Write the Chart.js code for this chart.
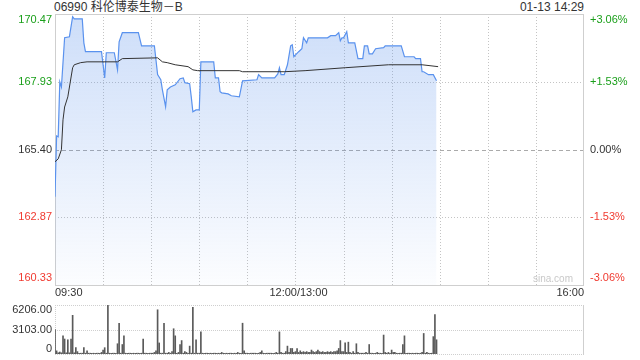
<!DOCTYPE html>
<html>
<head>
<meta charset="utf-8">
<script src="https://cdn.jsdelivr.net/npm/chart.js@4.4.1/dist/chart.umd.min.js"></script>
<style>
  body { margin: 0; background: #fff; width: 640px; height: 360px; overflow: hidden; position: relative;
         font-family: "Liberation Sans", Arial, "Noto Sans CJK SC", sans-serif; }
  #title { position: absolute; left: 54px; top: 0; font-size: 12px; color: #333; line-height: 14px; }
  #stamp { position: absolute; right: 56px; top: 0; font-size: 12px; color: #333; line-height: 14px; }
  #main { position: absolute; left: 0; top: 0; }
  #vol { position: absolute; left: 0; top: 296px; }
</style>
</head>
<body>
<div id="title">06990 科伦博泰生物－B</div>
<div id="stamp">01-13 14:29</div>
<canvas id="main" width="640" height="300"></canvas>
<canvas id="vol" width="640" height="64"></canvas>
<script>
// minutes since 09:30 (lunch break removed, 330 = 16:00)
const priceMinutes = [0, 1, 2, 3, 4, 6, 9, 11, 12, 17, 18, 19, 29, 31, 32, 37, 39, 40, 42, 52, 54, 62, 64, 66, 67, 69, 70, 72, 75, 78, 80, 81, 84, 85, 86, 88, 90, 91, 99, 100, 102, 103, 104, 108, 110, 115, 117, 126, 127, 129, 137, 139, 140, 141, 143, 145, 147, 148, 149, 152, 154, 155, 157, 158, 170, 172, 175, 177, 178, 179, 180, 182, 183, 187, 189, 192, 193, 195, 196, 198, 200, 205, 206, 216, 218, 224, 225, 228, 229, 230, 233, 236, 238];
const prices = [163.63, 165.91, 165.88, 167.93, 167.74, 169.58, 169.62, 170.37, 170.29, 170.29, 169.39, 169.06, 169.06, 168.08, 169.02, 169.02, 168.38, 169.43, 169.77, 169.77, 169.28, 169.28, 168.20, 168.01, 167.63, 167.00, 167.63, 167.74, 167.82, 168.05, 168.08, 167.90, 167.86, 167.37, 166.81, 166.88, 166.88, 168.68, 168.68, 168.08, 168.08, 167.56, 167.52, 167.48, 167.41, 167.37, 167.97, 168.01, 168.20, 168.08, 168.08, 168.23, 168.46, 168.20, 168.20, 168.57, 169.28, 169.32, 168.87, 169.06, 169.17, 169.58, 169.39, 169.58, 169.58, 169.66, 169.66, 169.77, 169.47, 169.58, 169.58, 169.81, 169.39, 169.39, 168.80, 168.80, 169.28, 169.28, 168.98, 168.98, 169.17, 169.21, 169.28, 169.28, 168.87, 168.87, 168.80, 168.80, 168.31, 168.31, 168.20, 168.20, 167.97];

const avgMinutes = [0, 2, 4, 5, 6, 8, 11, 12, 16, 20, 39, 42, 64, 67, 70, 75, 83, 86, 89, 115, 117, 143, 156, 181, 208, 229, 239];
const avgPrices = [164.94, 165.05, 165.39, 166.51, 166.99, 167.37, 168.46, 168.57, 168.65, 168.68, 168.68, 168.80, 168.83, 168.68, 168.65, 168.57, 168.50, 168.38, 168.35, 168.35, 168.31, 168.31, 168.35, 168.46, 168.57, 168.57, 168.50];

// volume for each minute from 09:30 (index = minute)
const volumes = [
  3100, 400, 150, 250, 150, 2300, 1900, 150, 1800, 150,
  1900, 4900, 150, 800, 300, 100, 100, 100, 800, 100,
  400, 100, 100, 100, 100, 100, 100, 100, 100, 200,
  500, 800, 100, 6200, 100, 100, 100, 100, 100, 1300,
  3900, 100, 1200, 2300, 100, 100, 100, 100, 100, 100,
  100, 100, 100, 100, 100, 1900, 100, 100, 100, 100,
  100, 100, 200, 400, 5600, 1400, 100, 100, 3900, 100,
  100, 200, 100, 300, 3200, 2300, 100, 200, 1200, 1700,
  100, 300, 200, 100, 1000, 100, 5900, 100, 1800, 100,
  100, 2800, 100, 100, 100, 100, 100, 100, 100, 100,
  100, 100, 100, 100, 200, 100, 100, 100, 100, 100,
  100, 100, 100, 100, 200, 100, 100, 3900, 400, 100,
  100, 100, 100, 100, 100, 100, 100, 100, 200, 400,
  100, 100, 100, 100, 100, 100, 100, 100, 200, 100,
  2800, 200, 100, 100, 300, 1000, 200, 700, 700, 200,
  300, 700, 200, 400, 200, 300, 200, 300, 200, 200,
  500, 300, 200, 300, 500, 300, 200, 300, 200, 200,
  300, 200, 300, 200, 300, 300, 400, 700, 1700, 300,
  300, 1400, 200, 1500, 200, 100, 300, 100, 1300, 200,
  100, 100, 100, 100, 200, 100, 1200, 100, 100, 100,
  100, 200, 100, 100, 100, 2400, 200, 100, 200, 100,
  500, 200, 200, 100, 100, 100, 100, 1200, 2300, 100,
  100, 100, 100, 100, 100, 100, 100, 100, 100, 200,
  2600, 100, 200, 100, 100, 100, 2200, 5000, 1800
];

const prevClose = 165.40;
const priceTicks = [170.47, 167.93, 165.40, 162.87, 160.33];
const pctLabels = ['+3.06%', '+1.53%', '0.00%', '-1.53%', '-3.06%'];
const volTicks = [6206, 3103, 0];
const volLabels = ['6206.00', '3103.00', '0'];
const xTickMinutes = [0, 150, 330];
const xTickLabels = ['09:30', '12:00/13:00', '16:00'];

const FONT = '11px "Liberation Sans", Arial, sans-serif';
const GREEN = '#1a9f1a', RED = '#f03a30', DARK = '#333';

function dotted(ctx, x1, y1, x2, y2, dash, color) {
  ctx.save();
  ctx.strokeStyle = color;
  ctx.lineWidth = 1;
  ctx.setLineDash(dash);
  ctx.beginPath();
  ctx.moveTo(x1, y1);
  ctx.lineTo(x2, y2);
  ctx.stroke();
  ctx.restore();
}

const mainGrid = {
  id: 'mainGrid',
  beforeDatasetsDraw(chart) {
    const { ctx, chartArea: a, scales: { x, y } } = chart;
    for (let m = 30; m < 330; m += 30) {
      const px = Math.round(x.getPixelForValue(m)) + 0.5;
      dotted(ctx, px, a.top, px, a.bottom, [1, 2], '#c4c4c4');
    }
    priceTicks.forEach(v => {
      if (v === priceTicks[0] || v === priceTicks[priceTicks.length - 1]) return;
      const py = Math.round(y.getPixelForValue(v)) + 0.5;
      if (v === prevClose) dotted(ctx, a.left, py, a.right, py, [4, 3], '#aaaaaa');
      else dotted(ctx, a.left, py, a.right, py, [1, 2], '#c4c4c4');
    });
    ctx.save();
    ctx.strokeStyle = '#cfcfcf';
    ctx.lineWidth = 1;
    ctx.strokeRect(Math.round(a.left) + 0.5, Math.round(a.top) + 0.5,
                   Math.round(a.right - a.left) - 1, Math.round(a.bottom - a.top));
    ctx.restore();
  },
  afterDraw(chart) {
    const { ctx, chartArea: a, scales: { x, y } } = chart;
    ctx.save();
    ctx.font = FONT;
    ctx.textBaseline = 'middle';
    priceTicks.forEach((v, i) => {
      let py = y.getPixelForValue(v);
      if (i === 0) py += 6;
      if (i === priceTicks.length - 1) py -= 7;
      ctx.fillStyle = v > prevClose ? GREEN : (v < prevClose ? RED : DARK);
      ctx.textAlign = 'right';
      ctx.fillText(v.toFixed(2), a.left - 3, py);
      ctx.textAlign = 'left';
      ctx.fillText(pctLabels[i], a.right + 6, py);
    });
    ctx.fillStyle = DARK;
    xTickMinutes.forEach((m, i) => {
      const px = x.getPixelForValue(m);
      ctx.textAlign = i === 0 ? 'left' : (i === xTickMinutes.length - 1 ? 'right' : 'center');
      ctx.fillText(xTickLabels[i], i === 1 ? px + 3 : px, a.bottom + 8);
    });
    ctx.font = '10px "Liberation Sans", Arial, sans-serif';
    ctx.fillStyle = '#c9c9c9';
    ctx.textAlign = 'right';
    ctx.fillText('sina.com', a.right - 11, a.bottom - 6);
    ctx.restore();
  }
};

new Chart(document.getElementById('main'), {
  type: 'line',
  data: {
    datasets: [
      {
        label: 'price',
        data: priceMinutes.map((m, i) => ({ x: m, y: prices[i] })),
        borderColor: '#5a92ee',
        borderWidth: 1.2,
        pointRadius: 0,
        fill: 'start',
        backgroundColor: (c) => {
          const a = c.chart.chartArea;
          if (!a) return 'rgba(90,145,235,0.2)';
          const g = c.chart.ctx.createLinearGradient(0, a.top, 0, a.bottom);
          g.addColorStop(0, 'rgba(90,145,235,0.3)');
          g.addColorStop(1, 'rgba(90,145,235,0.02)');
          return g;
        },
        order: 2
      },
      {
        label: 'avg',
        data: avgMinutes.map((m, i) => ({ x: m, y: avgPrices[i] })),
        borderColor: '#333',
        borderWidth: 1,
        pointRadius: 0,
        fill: false,
        order: 1
      }
    ]
  },
  options: {
    responsive: false,
    animation: false,
    layout: { padding: { left: 55, right: 56, top: 14, bottom: 15 } },
    plugins: { legend: { display: false }, tooltip: { enabled: false } },
    scales: {
      x: { type: 'linear', min: 0, max: 330, display: false },
      y: { min: 160.33, max: 170.47, display: false }
    }
  },
  plugins: [mainGrid]
});

const volGrid = {
  id: 'volGrid',
  beforeDatasetsDraw(chart) {
    const { ctx, chartArea: a, scales: { y } } = chart;
    volTicks.forEach(v => {
      const py = Math.round(y.getPixelForValue(v)) + 0.5;
      dotted(ctx, a.left, py, a.right, py, [1, 1], '#cfcfcf');
    });
    dotted(ctx, Math.round(a.left) + 0.5, a.top, Math.round(a.left) + 0.5, a.bottom, [1, 1], '#cfcfcf');
    dotted(ctx, Math.round(a.right) - 0.5, a.top, Math.round(a.right) - 0.5, a.bottom, [], '#cfcfcf');
  },
  afterDraw(chart) {
    const { ctx, chartArea: a, scales: { y } } = chart;
    ctx.save();
    ctx.font = FONT;
    ctx.textBaseline = 'middle';
    ctx.textAlign = 'right';
    ctx.fillStyle = DARK;
    volTicks.forEach((v, i) => {
      let py = y.getPixelForValue(v);
      if (i === 0) py += 5;
      if (i === volTicks.length - 1) py -= 5;
      ctx.fillText(volLabels[i], a.left - 3, py);
    });
    ctx.restore();
  }
};

new Chart(document.getElementById('vol'), {
  type: 'bar',
  data: {
    datasets: [{
      data: volumes.map((v, m) => ({ x: m, y: v })),
      backgroundColor: '#5a5a5a',
      barThickness: 1
    }]
  },
  options: {
    responsive: false,
    animation: false,
    layout: { padding: { left: 55, right: 56, top: 9, bottom: 6 } },
    plugins: { legend: { display: false }, tooltip: { enabled: false } },
    scales: {
      x: { type: 'linear', min: 0, max: 330, display: false, offset: false },
      y: { min: 0, max: 6206, display: false }
    }
  },
  plugins: [volGrid]
});
</script>
</body>
</html>
